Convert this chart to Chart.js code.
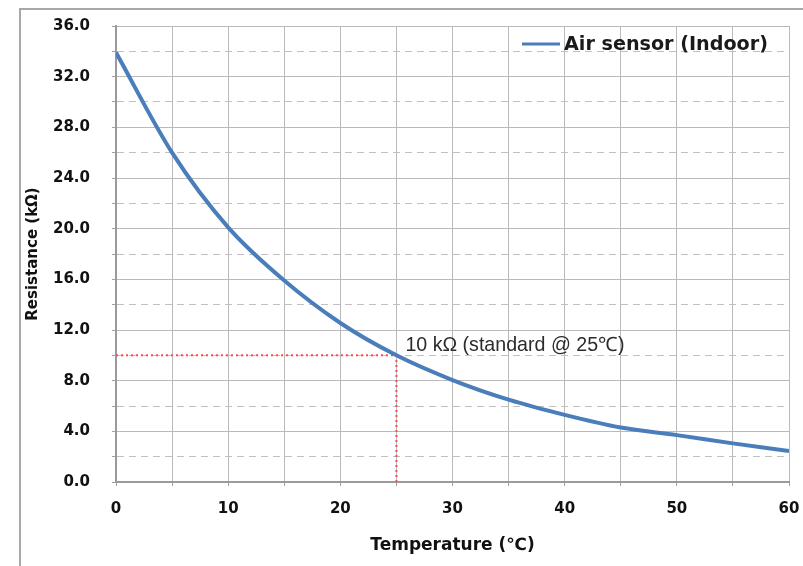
<!DOCTYPE html>
<html>
<head>
<meta charset="utf-8">
<script src="https://cdn.jsdelivr.net/npm/chart.js@4/dist/chart.umd.min.js"></script>
<style>
  html, body { margin: 0; padding: 0; background: #ffffff; }
  #wrap { position: relative; width: 803px; height: 566px; overflow: hidden; }
  #frame { position: absolute; left: 19px; top: 8px; width: 800px; height: 600px;
           border-left: 2px solid #a8a8a8; border-top: 2px solid #a8a8a8; box-sizing: border-box; }
  canvas { position: absolute; left: 0; top: 0; }
</style>
</head>
<body>
<div id="wrap">
  <div id="frame"></div>
  <canvas id="c" width="803" height="566"></canvas>
</div>
<script>
// ---- data ----
const temperatures = [0, 5, 10, 15, 20, 25, 30, 35, 40, 45, 50, 55, 60];
const resistances  = [33.9, 26.0, 20.1, 15.9, 12.55, 10.0, 8.05, 6.5, 5.3, 4.3, 3.7, 3.05, 2.45];
const seriesLabel = 'Air sensor (Indoor)';
const refTemperature = 25;
const refResistance = 10;
const refGuideX = [0, 25, 25];
const refGuideY = [10, 10, 0];
const refLabel = '10 k\u03A9 (standard @ 25\u2103)';
const xTitle = 'Temperature (\u2103)';
const yTitle = 'Resistance (k\u03A9)';

const mainPoints = temperatures.map((t, i) => ({ x: t, y: resistances[i] }));
const guidePoints = refGuideX.map((t, i) => ({ x: t, y: refGuideY[i] }));

const BLUE = '#4a7ebb';
const TICK_FONT = { family: 'DejaVu Sans', size: 15, weight: 'bold' };

const overlayPlugin = {
  id: 'overlay',
  afterDatasetsDraw(chart) {
    const ctx = chart.ctx;
    const xs = chart.scales.x, ys = chart.scales.y;
    ctx.save();
    // reference label
    ctx.fillStyle = '#2b2b2b';
    let fs = 18;
    ctx.font = fs + 'px "Liberation Sans", Arial, sans-serif';
    const w0 = ctx.measureText(refLabel).width;
    fs = fs * 219 / w0;
    ctx.font = fs.toFixed(2) + 'px "Liberation Sans", Arial, sans-serif';
    ctx.textBaseline = 'middle';
    ctx.textAlign = 'left';
    ctx.fillText(refLabel, xs.getPixelForValue(refTemperature) + 9, ys.getPixelForValue(refResistance) - 10);

    // legend (inside plot, top right)
    const ly = 44;
    ctx.strokeStyle = BLUE;
    ctx.lineWidth = 3;
    ctx.beginPath();
    ctx.moveTo(522, ly);
    ctx.lineTo(560, ly);
    ctx.stroke();
    let lfs = 18;
    ctx.font = 'bold ' + lfs + 'px "DejaVu Sans", sans-serif';
    const lw = ctx.measureText(seriesLabel).width;
    lfs = lfs * 204 / lw;
    ctx.font = 'bold ' + lfs.toFixed(2) + 'px "DejaVu Sans", sans-serif';
    ctx.fillStyle = '#1a1a1a';
    ctx.fillText(seriesLabel, 564, ly + 1);
    ctx.restore();
  }
};

new Chart(document.getElementById('c'), {
  type: 'line',
  data: {
    datasets: [
      {
        label: seriesLabel,
        data: mainPoints,
        borderColor: BLUE,
        backgroundColor: BLUE,
        borderWidth: 4,
        pointRadius: 0,
        cubicInterpolationMode: 'monotone',
        fill: false
      },
      {
        label: 'reference',
        data: guidePoints,
        borderColor: '#ff4d4d',
        borderWidth: 2,
        borderDash: [2, 3],
        pointRadius: 0,
        tension: 0,
        fill: false
      }
    ]
  },
  options: {
    responsive: false,
    animation: false,
    devicePixelRatio: 1,
    layout: { padding: { top: 26, right: 14, left: 0, bottom: 0 } },
    plugins: {
      legend: { display: false },
      tooltip: { enabled: false }
    },
    scales: {
      x: {
        type: 'linear',
        min: 0, max: 60,
        afterFit(s) { s.height = 84; s.paddingLeft = 0; s.paddingRight = 0; },
        ticks: {
          stepSize: 5,
          autoSkip: false,
          maxRotation: 0,
          padding: 14,
          color: '#111',
          font: TICK_FONT,
          callback: v => (v % 10 === 0 ? String(v) : '')
        },
        grid: { color: '#bababa', lineWidth: 1, tickLength: 4, tickColor: '#a0a0a0' },
        border: { color: '#9a9a9a', width: 2 },
        title: {
          display: true,
          text: xTitle,
          color: '#111',
          font: { family: 'DejaVu Sans', size: 17, weight: 'bold' },
          padding: { top: 0, bottom: 10 }
        }
      },
      y: {
        type: 'linear',
        min: 0, max: 36,
        afterFit(s) { s.width = 116; s.paddingTop = 0; s.paddingBottom = 0; },
        ticks: {
          stepSize: 2,
          autoSkip: false,
          padding: 22,
          color: '#111',
          font: TICK_FONT,
          callback: v => (v % 4 === 0 ? v.toFixed(1) : '')
        },
        grid: {
          color: ctx => (ctx.tick && ctx.tick.value % 4 !== 0 ? '#c0c0c0' : '#bababa'),
          lineWidth: 1,
          tickLength: 4,
          tickColor: '#a0a0a0'
        },
        border: {
          color: '#9a9a9a',
          width: 2,
          dash: ctx => (ctx.tick && ctx.tick.value % 4 !== 0 ? [7, 5] : [])
        },
        title: {
          display: true,
          text: yTitle,
          color: '#111',
          font: { family: 'DejaVu Sans', size: 15, weight: 'bold' },
          padding: { top: 24, bottom: 0 }
        }
      }
    }
  },
  plugins: [overlayPlugin]
});
</script>
</body>
</html>
